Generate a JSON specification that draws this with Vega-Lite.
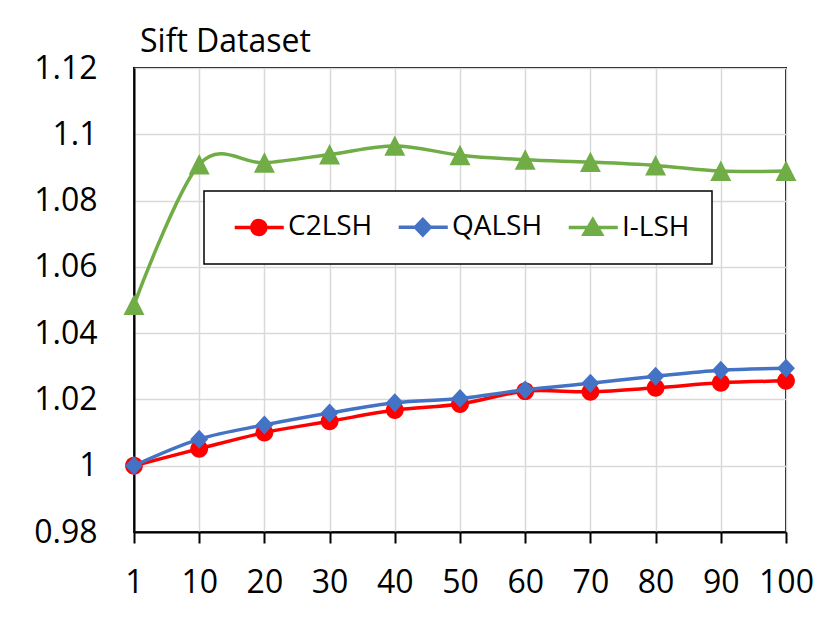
{
  "$schema": "https://vega.github.io/schema/vega-lite/v6.json",
  "width": 652,
  "height": 464,
  "autosize": {"type": "none"},
  "padding": {"left": 134, "top": 68, "right": 45, "bottom": 99},
  "background": "white",
  "title": {
    "text": "Sift Dataset",
    "anchor": "start",
    "frame": "group",
    "font": "Open Sans",
    "fontSize": 32,
    "fontWeight": "normal",
    "color": "black",
    "baseline": "alphabetic",
    "offset": -32,
    "dx": 6
  },
  "data": {
    "values": [
      {"n": 1, "series": "C2LSH", "value": 1.0},
      {"n": 10, "series": "C2LSH", "value": 1.0051},
      {"n": 20, "series": "C2LSH", "value": 1.01},
      {"n": 30, "series": "C2LSH", "value": 1.0134},
      {"n": 40, "series": "C2LSH", "value": 1.0168},
      {"n": 50, "series": "C2LSH", "value": 1.0186},
      {"n": 60, "series": "C2LSH", "value": 1.0225},
      {"n": 70, "series": "C2LSH", "value": 1.0223},
      {"n": 80, "series": "C2LSH", "value": 1.0235},
      {"n": 90, "series": "C2LSH", "value": 1.025},
      {"n": 100, "series": "C2LSH", "value": 1.0256},
      {"n": 1, "series": "QALSH", "value": 1.0},
      {"n": 10, "series": "QALSH", "value": 1.008},
      {"n": 20, "series": "QALSH", "value": 1.0123},
      {"n": 30, "series": "QALSH", "value": 1.0159},
      {"n": 40, "series": "QALSH", "value": 1.019},
      {"n": 50, "series": "QALSH", "value": 1.0203},
      {"n": 60, "series": "QALSH", "value": 1.0229},
      {"n": 70, "series": "QALSH", "value": 1.0249},
      {"n": 80, "series": "QALSH", "value": 1.027},
      {"n": 90, "series": "QALSH", "value": 1.0288},
      {"n": 100, "series": "QALSH", "value": 1.0294},
      {"n": 1, "series": "I-LSH", "value": 1.0485},
      {"n": 10, "series": "I-LSH", "value": 1.0909},
      {"n": 20, "series": "I-LSH", "value": 1.0914},
      {"n": 30, "series": "I-LSH", "value": 1.0939},
      {"n": 40, "series": "I-LSH", "value": 1.0965},
      {"n": 50, "series": "I-LSH", "value": 1.0937},
      {"n": 60, "series": "I-LSH", "value": 1.0923},
      {"n": 70, "series": "I-LSH", "value": 1.0916},
      {"n": 80, "series": "I-LSH", "value": 1.0906},
      {"n": 90, "series": "I-LSH", "value": 1.0889},
      {"n": 100, "series": "I-LSH", "value": 1.0889}
    ]
  },
  "encoding": {
    "x": {
      "field": "n",
      "type": "ordinal",
      "scale": {"type": "point", "padding": 0},
      "axis": {
        "title": null,
        "labelAngle": 0,
        "labelFontSize": 32,
        "labelColor": "black",
        "labelPadding": 24,
        "tickSize": 11,
        "tickWidth": 2,
        "tickColor": "black",
        "domainColor": "black",
        "domainWidth": 2,
        "gridColor": "#d9d9d9",
        "gridWidth": 1.5,
        "grid": true
      }
    },
    "y": {
      "field": "value",
      "type": "quantitative",
      "scale": {"domain": [0.98, 1.12], "zero": false, "nice": false},
      "axis": {
        "title": null,
        "values": [0.98, 1.0, 1.02, 1.04, 1.06, 1.08, 1.1, 1.12],
        "format": ".3~f",
        "labelFontSize": 32,
        "labelColor": "black",
        "ticks": false,
        "labelPadding": 37,
        "domainColor": "black",
        "domainWidth": 2,
        "gridColor": "#d9d9d9",
        "gridWidth": 1.5
      }
    },
    "color": {
      "field": "series",
      "type": "nominal",
      "scale": {
        "domain": ["C2LSH", "QALSH", "I-LSH"],
        "range": ["#FF0000", "#4472C4", "#70AD47"]
      },
      "legend": {
        "orient": "none",
        "legendX": 70,
        "legendY": 123,
        "direction": "horizontal",
        "columns": 3,
        "title": null,
        "padding": 22,
        "strokeColor": "black",
        "fillColor": "white",
        "labelFont": "Open Sans",
        "labelFontSize": 28,
        "labelColor": "black",
        "labelOffset": 34,
        "symbolSize": 484,
        "symbolStrokeWidth": 3.5,
        "symbolOpacity": 1,
        "columnPadding": 17,
        "encode": {
          "legend": {"update": {"strokeWidth": {"value": 1.5}}},
          "symbols": {
            "update": {
              "shape": {"signal": "datum.value === 'C2LSH' ? 'M-0.48,0H3.98M2.35,0A0.64,0.64 0 1,1 1.07,0A0.64,0.64 0 1,1 2.35,0Z' : datum.value === 'QALSH' ? 'M-0.48,0H3.98M1.71,-0.7L2.38,0L1.71,0.7L1.04,0Z' : 'M-0.48,0H3.98M1.71,-0.72L2.5,0.62L0.92,0.62Z'"},
              "fill": {"scale": "color", "field": "value"},
              "stroke": {"scale": "color", "field": "value"},
              "strokeWidth": {"value": 3.5},
              "opacity": {"value": 1}
            }
          }
        }
      }
    }
  },
  "layer": [
    {
      "transform": [{"filter": "datum.series === 'C2LSH'"}],
      "mark": {"type": "line", "interpolate": "cardinal", "strokeWidth": 3.5}
    },
    {
      "transform": [{"filter": "datum.series === 'C2LSH'"}],
      "mark": {"type": "point", "filled": true, "size": 440, "opacity": 1, "shape": "M0.85,0A0.85,0.85 0 1,1 -0.85,0A0.85,0.85 0 1,1 0.85,0Z"}
    },
    {
      "transform": [{"filter": "datum.series === 'QALSH'"}],
      "mark": {"type": "line", "interpolate": "cardinal", "strokeWidth": 3.5}
    },
    {
      "transform": [{"filter": "datum.series === 'QALSH'"}],
      "mark": {"type": "point", "filled": true, "size": 440, "opacity": 1, "shape": "M0,-0.9L0.85,0L0,0.9L-0.85,0Z"}
    },
    {
      "transform": [{"filter": "datum.series === 'I-LSH'"}],
      "mark": {"type": "line", "interpolate": "cardinal", "strokeWidth": 3.5}
    },
    {
      "transform": [{"filter": "datum.series === 'I-LSH'"}],
      "mark": {"type": "point", "filled": true, "size": 440, "opacity": 1, "shape": "M0,-1L1,0.95L-1,0.95Z"}
    }
  ],
  "config": {
    "font": "Open Sans",
    "view": {"stroke": "black", "strokeWidth": 2}
  }
}
